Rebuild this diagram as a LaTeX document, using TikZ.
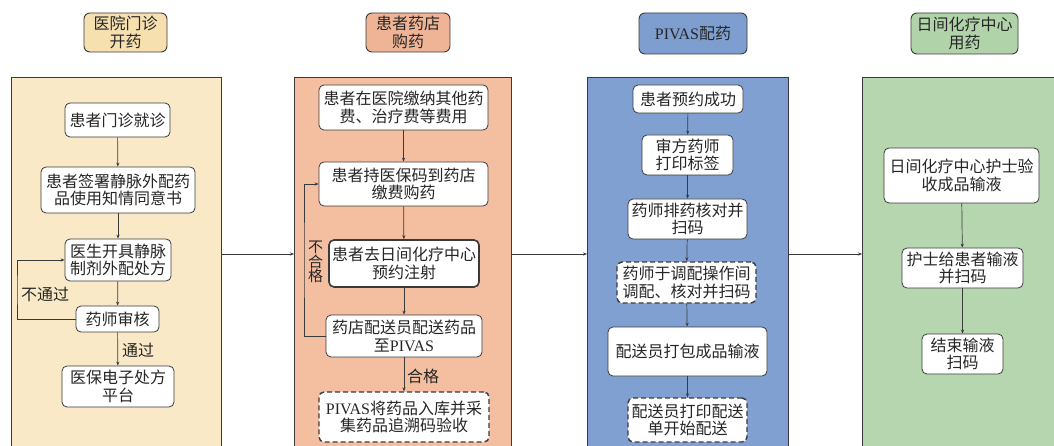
\documentclass[tikz,border=0pt]{standalone}
\usepackage{fontspec}
\setmainfont{Noto Sans CJK SC}
\newfontfamily\latf{Liberation Serif}
\newcommand{\lat}[1]{{\latf #1}}
\usetikzlibrary{arrows.meta}
\definecolor{bgA}{HTML}{F9E9C6}
\definecolor{hdA}{HTML}{F6E0B0}
\definecolor{bgB}{HTML}{F4BEA1}
\definecolor{hdB}{HTML}{EFB495}
\definecolor{bgC}{HTML}{80A0D2}
\definecolor{hdC}{HTML}{7E9ED0}
\definecolor{bgD}{HTML}{B5D6AE}
\definecolor{hdD}{HTML}{B1D3A9}
\definecolor{ln}{HTML}{3A3A3A}
\tikzset{
  x=1pt, y=-1pt,
  every node/.style={font=\fontsize{16}{17.5}\selectfont, text=black!85, inner sep=0pt, align=center},
  panel/.style={draw=ln, line width=0.9pt, anchor=north west},
  hdr/.style={draw=ln, line width=0.9pt, rounded corners=6pt},
  box/.style={draw=ln, line width=0.8pt, fill=white, rounded corners=5pt},
  thickbox/.style={box, line width=1.6pt},
  dashbox/.style={box, line width=1.4pt, dash pattern=on 5pt off 3pt},
  arr/.style={draw=ln, line width=0.7pt, -{Stealth[length=4pt,width=3.2pt]}},
  lbl/.style={font=\fontsize{16}{16}\selectfont}
}
\begin{document}
\begin{tikzpicture}
\useasboundingbox (0,0) rectangle (1054,446);
\fill[white] (0,0) rectangle (1054,446);
% panels
\node[panel, fill=bgA, minimum width=210pt, minimum height=390pt] (PA) at (11,77) {};
\node[panel, fill=bgB, minimum width=217pt, minimum height=390pt] (PB) at (294,77) {};
\node[panel, fill=bgC, minimum width=201pt, minimum height=390pt] (PC) at (587,77) {};
\node[panel, fill=bgD, minimum width=220pt, minimum height=390pt] (PD) at (862,77) {};
% headers
\node[hdr, fill=hdA, minimum width=83pt, minimum height=39pt] (hA) at (125.5,32.5) {医院门诊\\开药};
\node[hdr, fill=hdB, minimum width=84pt, minimum height=39pt] (hB) at (408,32.5) {患者药店\\购药};
\node[hdr, fill=hdC, minimum width=108pt, minimum height=41pt] (hC) at (693,33.5) {\lat{PIVAS}配药};
\node[hdr, fill=hdD, minimum width=107pt, minimum height=41pt] (hD) at (964.5,33.5) {日间化疗中心\\用药};
% panel 1
\node[box, minimum width=105pt, minimum height=34pt] (a1) at (117.5,120) {患者门诊就诊};
\node[box, minimum width=154pt, minimum height=46pt] (a2) at (118,190) {患者签署静脉外配药\\品使用知情同意书};
\node[box, minimum width=106pt, minimum height=42pt] (a3) at (118,260) {医生开具静脉\\制剂外配处方};
\node[box, minimum width=83pt, minimum height=26pt] (a4) at (117.5,319) {药师审核};
\node[box, minimum width=112pt, minimum height=41pt] (a5) at (118,386.5) {医保电子处方\\平台};
\draw[arr] (a1) -- (a2);
\draw[arr] (a2) -- (a3);
\draw[arr] (a3) -- (a4);
\draw[arr] (a4) -- (a5);
\coordinate (la) at (17,290);
\draw[arr] (a4.west) -| (la) |- (a3.west);
\node[lbl] (tA) at (45,294) {不通过};
\node[lbl] (tB) at (138,350) {通过};
% panel 2
\node[box, minimum width=169pt, minimum height=45pt] (b1) at (403.5,107.5) {患者在医院缴纳其他药\\费、治疗费等费用};
\node[box, minimum width=169pt, minimum height=44pt] (b2) at (403.5,184) {患者持医保码到药店\\缴费购药};
\node[thickbox, minimum width=150pt, minimum height=47pt] (b3) at (404,263.5) {患者去日间化疗中心\\预约注射};
\node[box, minimum width=156pt, minimum height=42pt] (b4) at (404,336) {药店配送员配送药品\\至\lat{PIVAS}};
\node[dashbox, minimum width=170pt, minimum height=50pt] (b5) at (404,417) {\lat{PIVAS}将药品入库并采\\集药品追溯码验收};
\draw[arr] (b1) -- (b2);
\draw[arr] (b2) -- (b3);
\draw[arr] (b3) -- (b4);
\draw[arr] (b4) -- (b5);
\coordinate (lb) at (304,260);
\draw[arr] (b4.west) -| (lb) |- (b2.west);
\node[lbl, font=\fontsize{15}{14.5}\selectfont] (tC) at (315.5,262) {不\\合\\格};
\node[lbl] (tD) at (423,376) {合格};
% panel 3
\node[box, minimum width=110pt, minimum height=28pt] (c1) at (688,99) {患者预约成功};
\node[box, minimum width=91pt, minimum height=40pt] (c2) at (687.5,155) {审方药师\\打印标签};
\node[box, minimum width=119pt, minimum height=40pt] (c3) at (687.5,219) {药师排药核对并\\扫码};
\node[dashbox, minimum width=139pt, minimum height=41pt] (c4) at (686.5,282.5) {药师于调配操作间\\调配、核对并扫码};
\node[box, minimum width=159pt, minimum height=49pt] (c5) at (687.5,351.5) {配送员打包成品输液};
\node[dashbox, minimum width=119pt, minimum height=44pt] (c6) at (687.5,420) {配送员打印配送\\单开始配送};
\draw[arr] (c1) -- (c2);
\draw[arr] (c2) -- (c3);
\draw[arr] (c3) -- (c4);
\draw[arr] (c4) -- (c5);
\draw[arr] (c5) -- (c6);
% panel 4
\node[box, minimum width=155pt, minimum height=55pt] (d1) at (961.5,175.5) {日间化疗中心护士验\\收成品输液};
\node[box, minimum width=121pt, minimum height=40pt] (d2) at (962.5,268) {护士给患者输液\\并扫码};
\node[box, minimum width=81pt, minimum height=40pt] (d3) at (962.5,354) {结束输液\\扫码};
\draw[arr] (d1) -- (d2);
\draw[arr] (d2) -- (d3);
% between panels
\coordinate (m) at (0,254);
\draw[arr] (PA.east |- m) -- (PB.west |- m);
\draw[arr] (PB.east |- m) -- (PC.west |- m);
\draw[arr] (PC.east |- m) -- (PD.west |- m);
\end{tikzpicture}
\end{document}
